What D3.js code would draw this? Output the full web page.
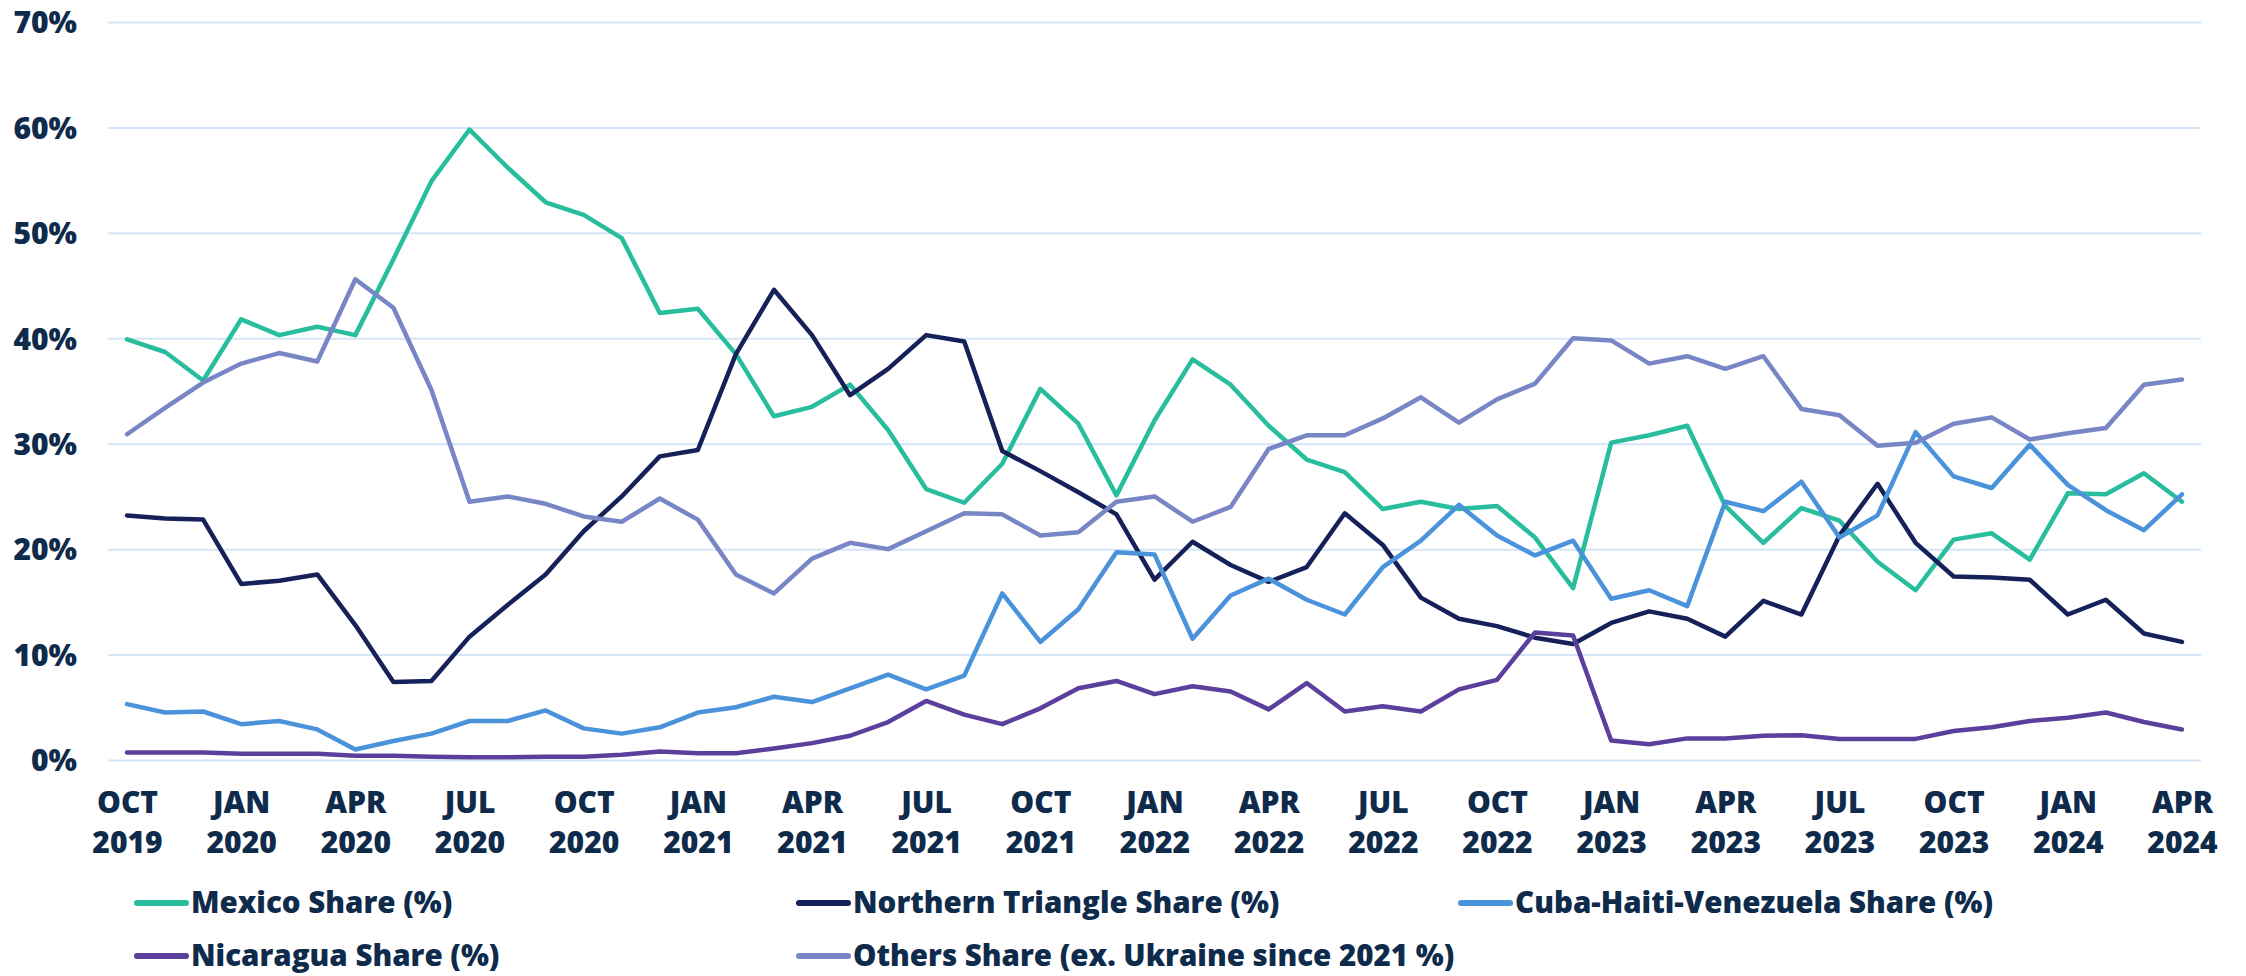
<!DOCTYPE html>
<html>
<head>
<meta charset="utf-8">
<script src="https://cdn.jsdelivr.net/npm/d3@7"></script>
<style>
  body { margin: 0; background: #fff; }
  #chart text { font-family: "Open Sans", sans-serif; font-weight: 800; fill: #0f2b4c; }
</style>
</head>
<body>
<div id="chart"></div>
<script>
// Monthly shares, Oct 2019 - Apr 2024 (percent)
const months = d3.timeMonth.range(new Date(2019, 9, 1), new Date(2024, 4, 1));

const mexico = [39.9, 38.7, 36.0, 41.8, 40.3, 41.1, 40.3, 47.5, 54.9, 59.8,
    56.2, 52.9, 51.7, 49.5, 42.4, 42.8, 38.5, 32.6, 33.5, 35.6,
    31.3, 25.7, 24.4, 28.1, 35.2, 31.9, 25.1, 32.2, 38.0, 35.6,
    31.7, 28.5, 27.3, 23.8, 24.5, 23.8, 24.1, 21.1, 16.3, 30.1,
    30.8, 31.7, 24.1, 20.6, 23.9, 22.7, 18.8, 16.1, 20.9, 21.5,
    19.0, 25.3, 25.2, 27.2, 24.5];

const northernTriangle = [23.2, 22.9, 22.8, 16.7, 17.0, 17.6, 12.8, 7.4, 7.5, 11.7,
    14.7, 17.6, 21.7, 25.0, 28.8, 29.4, 38.5, 44.6, 40.3, 34.6,
    37.1, 40.3, 39.7, 29.3, 27.4, 25.4, 23.3, 17.1, 20.7, 18.5,
    16.9, 18.3, 23.4, 20.4, 15.4, 13.4, 12.7, 11.6, 11.0, 13.0,
    14.1, 13.4, 11.7, 15.1, 13.8, 21.3, 26.2, 20.6, 17.4, 17.3,
    17.1, 13.8, 15.2, 12.0, 11.2];

const cubaHaitiVenezuela = [5.3, 4.5, 4.6, 3.4, 3.7, 2.9, 1.0, 1.8, 2.5, 3.7,
    3.7, 4.7, 3.0, 2.5, 3.1, 4.5, 5.0, 6.0, 5.5, 6.8,
    8.1, 6.7, 8.0, 15.8, 11.2, 14.3, 19.7, 19.5, 11.5, 15.6,
    17.2, 15.2, 13.8, 18.3, 20.8, 24.2, 21.3, 19.4, 20.8, 15.3,
    16.1, 14.6, 24.5, 23.6, 26.4, 21.1, 23.2, 31.1, 26.9, 25.8,
    29.9, 26.1, 23.7, 21.8, 25.2];

const nicaragua = [0.7, 0.7, 0.7, 0.6, 0.6, 0.6, 0.4, 0.4, 0.3, 0.25,
    0.25, 0.3, 0.3, 0.5, 0.8, 0.65, 0.65, 1.1, 1.6, 2.3,
    3.6, 5.6, 4.3, 3.4, 4.9, 6.8, 7.5, 6.25, 7.0, 6.5,
    4.8, 7.3, 4.6, 5.1, 4.6, 6.7, 7.6, 12.1, 11.8, 1.85,
    1.5, 2.05, 2.05, 2.3, 2.35, 2.0, 2.0, 2.0, 2.75, 3.1,
    3.7, 4.0, 4.5, 3.6, 2.9];

const others = [30.9, 33.4, 35.8, 37.6, 38.6, 37.8, 45.6, 42.9, 35.1, 24.5,
    25.0, 24.3, 23.1, 22.6, 24.8, 22.8, 17.6, 15.8, 19.1, 20.6,
    20.0, 21.7, 23.4, 23.3, 21.3, 21.6, 24.5, 25.0, 22.6, 24.0,
    29.5, 30.8, 30.8, 32.4, 34.4, 32.0, 34.2, 35.7, 40.0, 39.8,
    37.6, 38.3, 37.1, 38.3, 33.3, 32.7, 29.8, 30.1, 31.9, 32.5,
    30.4, 31.0, 31.5, 35.6, 36.1];

const seriesNames = ["Mexico Share (%)", "Northern Triangle Share (%)", "Cuba-Haiti-Venezuela Share (%)",
    "Nicaragua Share (%)", "Others Share (ex. Ukraine since 2021 %)"];
const seriesColors = ["#27bd9d", "#16215a", "#4a93db", "#5b3f9c", "#7886c5"];
const seriesValues = [mexico, northernTriangle, cubaHaitiVenezuela, nicaragua, others];

const yTicks = [0, 10, 20, 30, 40, 50, 60, 70];
const tickLabels = [["OCT", "2019"], ["JAN", "2020"], ["APR", "2020"], ["JUL", "2020"],
    ["OCT", "2020"], ["JAN", "2021"], ["APR", "2021"], ["JUL", "2021"], ["OCT", "2021"],
    ["JAN", "2022"], ["APR", "2022"], ["JUL", "2022"], ["OCT", "2022"], ["JAN", "2023"],
    ["APR", "2023"], ["JUL", "2023"], ["OCT", "2023"], ["JAN", "2024"], ["APR", "2024"]];

const width = 2246, height = 976;
const plot = { left: 108, right: 2201, top: 22, bottom: 760 };

const svg = d3.select("#chart").append("svg")
    .attr("width", width)
    .attr("height", height);

const x = d3.scalePoint()
    .domain(d3.range(months.length))
    .range([plot.left, plot.right])
    .padding(0.5);

const y = d3.scaleLinear()
    .domain([0, 70])
    .range([plot.bottom, plot.top]);

// Y axis with gridlines
const yAxis = svg.append("g")
    .attr("transform", `translate(${plot.left},0)`)
    .call(d3.axisLeft(y)
        .tickValues(yTicks)
        .tickSizeInner(-(plot.right - plot.left))
        .tickSizeOuter(0)
        .tickPadding(31)
        .tickFormat(d => d + "%"));
yAxis.select(".domain").remove();
yAxis.selectAll(".tick line")
    .attr("stroke", "#d3e5f6")
    .attr("stroke-width", 2);
yAxis.selectAll(".tick text")
    .style("font-size", "30px")
    .attr("dy", "0.36em");

// X axis, two-line labels every third month
const xTickValues = d3.range(0, months.length, 3);
const xAxis = svg.append("g")
    .attr("transform", `translate(0,${plot.bottom})`)
    .call(d3.axisBottom(x).tickValues(xTickValues).tickSize(0).tickFormat(""));
xAxis.select(".domain").remove();
xAxis.selectAll(".tick text").each(function(d, i) {
    const t = d3.select(this).attr("dy", null).attr("y", 0).style("font-size", "30px");
    t.append("tspan").attr("x", 0).attr("y", 53).text(tickLabels[i][0]);
    t.append("tspan").attr("x", 0).attr("y", 93).text(tickLabels[i][1]);
});

// Lines
const line = d3.line()
    .x((d, i) => x(i))
    .y(d => y(d));

svg.append("g")
    .selectAll("path")
    .data(seriesValues)
    .join("path")
    .attr("d", line)
    .attr("fill", "none")
    .attr("stroke", (d, i) => seriesColors[i])
    .attr("stroke-width", 4.5)
    .attr("stroke-linejoin", "round")
    .attr("stroke-linecap", "round");

// Legend
const legendPos = [[134, 913], [796, 913], [1458, 913], [134, 966], [796, 966]];
const legend = svg.append("g")
    .selectAll("g")
    .data(seriesNames)
    .join("g")
    .attr("transform", (d, i) => `translate(${legendPos[i][0]},${legendPos[i][1]})`);

legend.append("line")
    .attr("x1", 3).attr("x2", 52)
    .attr("y1", -10).attr("y2", -10)
    .attr("stroke", (d, i) => seriesColors[i])
    .attr("stroke-width", 6)
    .attr("stroke-linecap", "round");

legend.append("text")
    .attr("x", 57)
    .attr("y", 0)
    .style("font-size", "29.5px")
    .text(d => d);
</script>
</body>
</html>
